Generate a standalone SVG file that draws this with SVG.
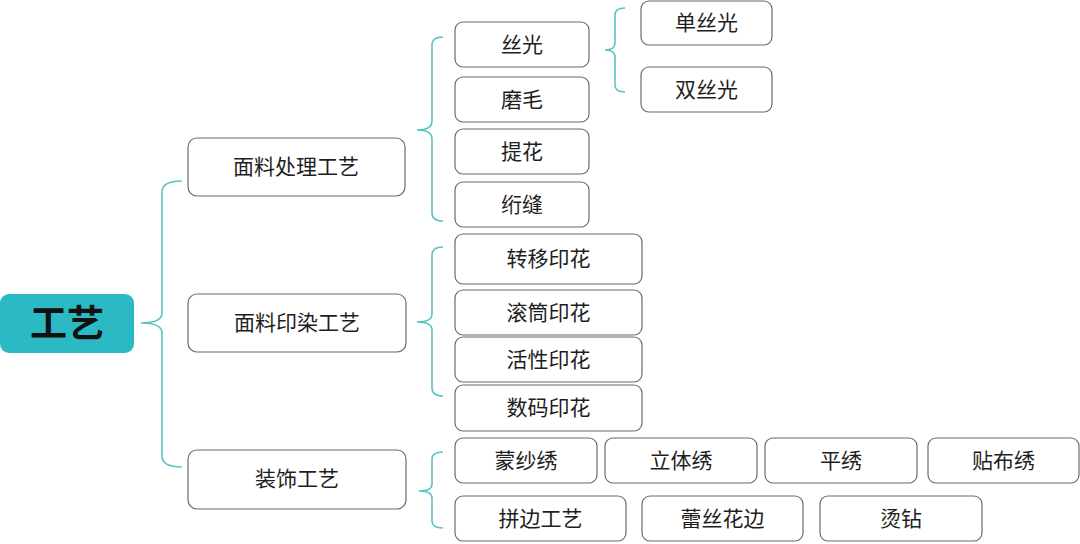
<svg xmlns="http://www.w3.org/2000/svg" width="1080" height="544" viewBox="0 0 1080 544">
<style>
.box{fill:#fff;stroke:#6b6b6b;stroke-width:1.2}
.t{font-family:"Noto Sans CJK SC","Noto Sans",sans-serif;font-size:21px;fill:#1e1e1e;text-anchor:middle;dominant-baseline:central}
.root{fill:#2bbac3}
.rt{font-family:"Noto Sans CJK SC","Noto Sans",sans-serif;font-size:37px;font-weight:bold;fill:#111;text-anchor:middle;dominant-baseline:central}
.c{fill:none;stroke:#5cc3c3;stroke-width:1.6}
</style>
<rect width="1080" height="544" fill="#fff"/>
<g id="connectors">
<path class="c" d="M182,181 Q162,181 162,192 L162,313 Q162,323 141,323 Q162,323 162,333 L162,456 Q162,467 182,467"/>
<path class="c" d="M443,37 Q432,37 432,45 L432,121 Q432,130 417,130 Q432,130 432,139 L432,213 Q432,221 443,221"/>
<path class="c" d="M625,8 Q615,8 615,15 L615,43 Q615,50 605,50 Q615,50 615,57 L615,85 Q615,92 625,92"/>
<path class="c" d="M443,247 Q432,247 432,255 L432,314 Q432,322 417,322 Q432,322 432,330 L432,388 Q432,396 443,396"/>
<path class="c" d="M443,452 Q432,452 432,459 L432,484 Q432,491 419,491 Q432,491 432,498 L432,521 Q432,528 443,528"/>
</g>
<g id="n-root"><rect class="root" x="0" y="294" width="134" height="59" rx="9"/><text class="rt" x="67" y="321">工艺</text></g>
<g id="n-mlcl"><rect class="box" x="188" y="138" width="217" height="58" rx="9"/><text class="t" x="296" y="165">面料处理工艺</text></g>
<g id="n-mlyr"><rect class="box" x="188" y="294" width="218" height="58" rx="9"/><text class="t" x="297" y="321">面料印染工艺</text></g>
<g id="n-zsgy"><rect class="box" x="188" y="450" width="218" height="59" rx="9"/><text class="t" x="297" y="477">装饰工艺</text></g>
<g id="n-sg"><rect class="box" x="455" y="22" width="134" height="45" rx="8"/><text class="t" x="522" y="42.5">丝光</text></g>
<g id="n-mm"><rect class="box" x="455" y="77" width="134" height="45" rx="8"/><text class="t" x="522" y="97.5">磨毛</text></g>
<g id="n-th"><rect class="box" x="455" y="129" width="134" height="45" rx="8"/><text class="t" x="522" y="149.5">提花</text></g>
<g id="n-hf"><rect class="box" x="455" y="182" width="134" height="45" rx="8"/><text class="t" x="522" y="202.5">绗缝</text></g>
<g id="n-dsg"><rect class="box" x="641" y="1" width="131" height="44" rx="8"/><text class="t" x="706.5" y="21">单丝光</text></g>
<g id="n-ssg"><rect class="box" x="641" y="67" width="131" height="45" rx="8"/><text class="t" x="706.5" y="87.5">双丝光</text></g>
<g id="n-zyyh"><rect class="box" x="455" y="234" width="187" height="50" rx="8"/><text class="t" x="548.5" y="257">转移印花</text></g>
<g id="n-gtyh"><rect class="box" x="455" y="290" width="187" height="45" rx="8"/><text class="t" x="548.5" y="310.5">滚筒印花</text></g>
<g id="n-hxyh"><rect class="box" x="455" y="337" width="187" height="45" rx="8"/><text class="t" x="548.5" y="357.5">活性印花</text></g>
<g id="n-smyh"><rect class="box" x="455" y="385" width="187" height="46" rx="8"/><text class="t" x="548.5" y="406">数码印花</text></g>
<g id="n-msx"><rect class="box" x="455" y="438" width="142" height="45" rx="8"/><text class="t" x="526" y="458.5">蒙纱绣</text></g>
<g id="n-ltx"><rect class="box" x="605" y="438" width="152" height="45" rx="8"/><text class="t" x="681" y="458.5">立体绣</text></g>
<g id="n-px"><rect class="box" x="765" y="438" width="152" height="45" rx="8"/><text class="t" x="841" y="458.5">平绣</text></g>
<g id="n-tbx"><rect class="box" x="928" y="438" width="151" height="45" rx="8"/><text class="t" x="1003.5" y="458.5">贴布绣</text></g>
<g id="n-pbgy"><rect class="box" x="455" y="496" width="171" height="45" rx="8"/><text class="t" x="540.5" y="516.5">拼边工艺</text></g>
<g id="n-lshb"><rect class="box" x="642" y="496" width="161" height="45" rx="8"/><text class="t" x="722.5" y="516.5">蕾丝花边</text></g>
<g id="n-tz"><rect class="box" x="820" y="496" width="162" height="45" rx="8"/><text class="t" x="901" y="516.5">烫钻</text></g>
</svg>
